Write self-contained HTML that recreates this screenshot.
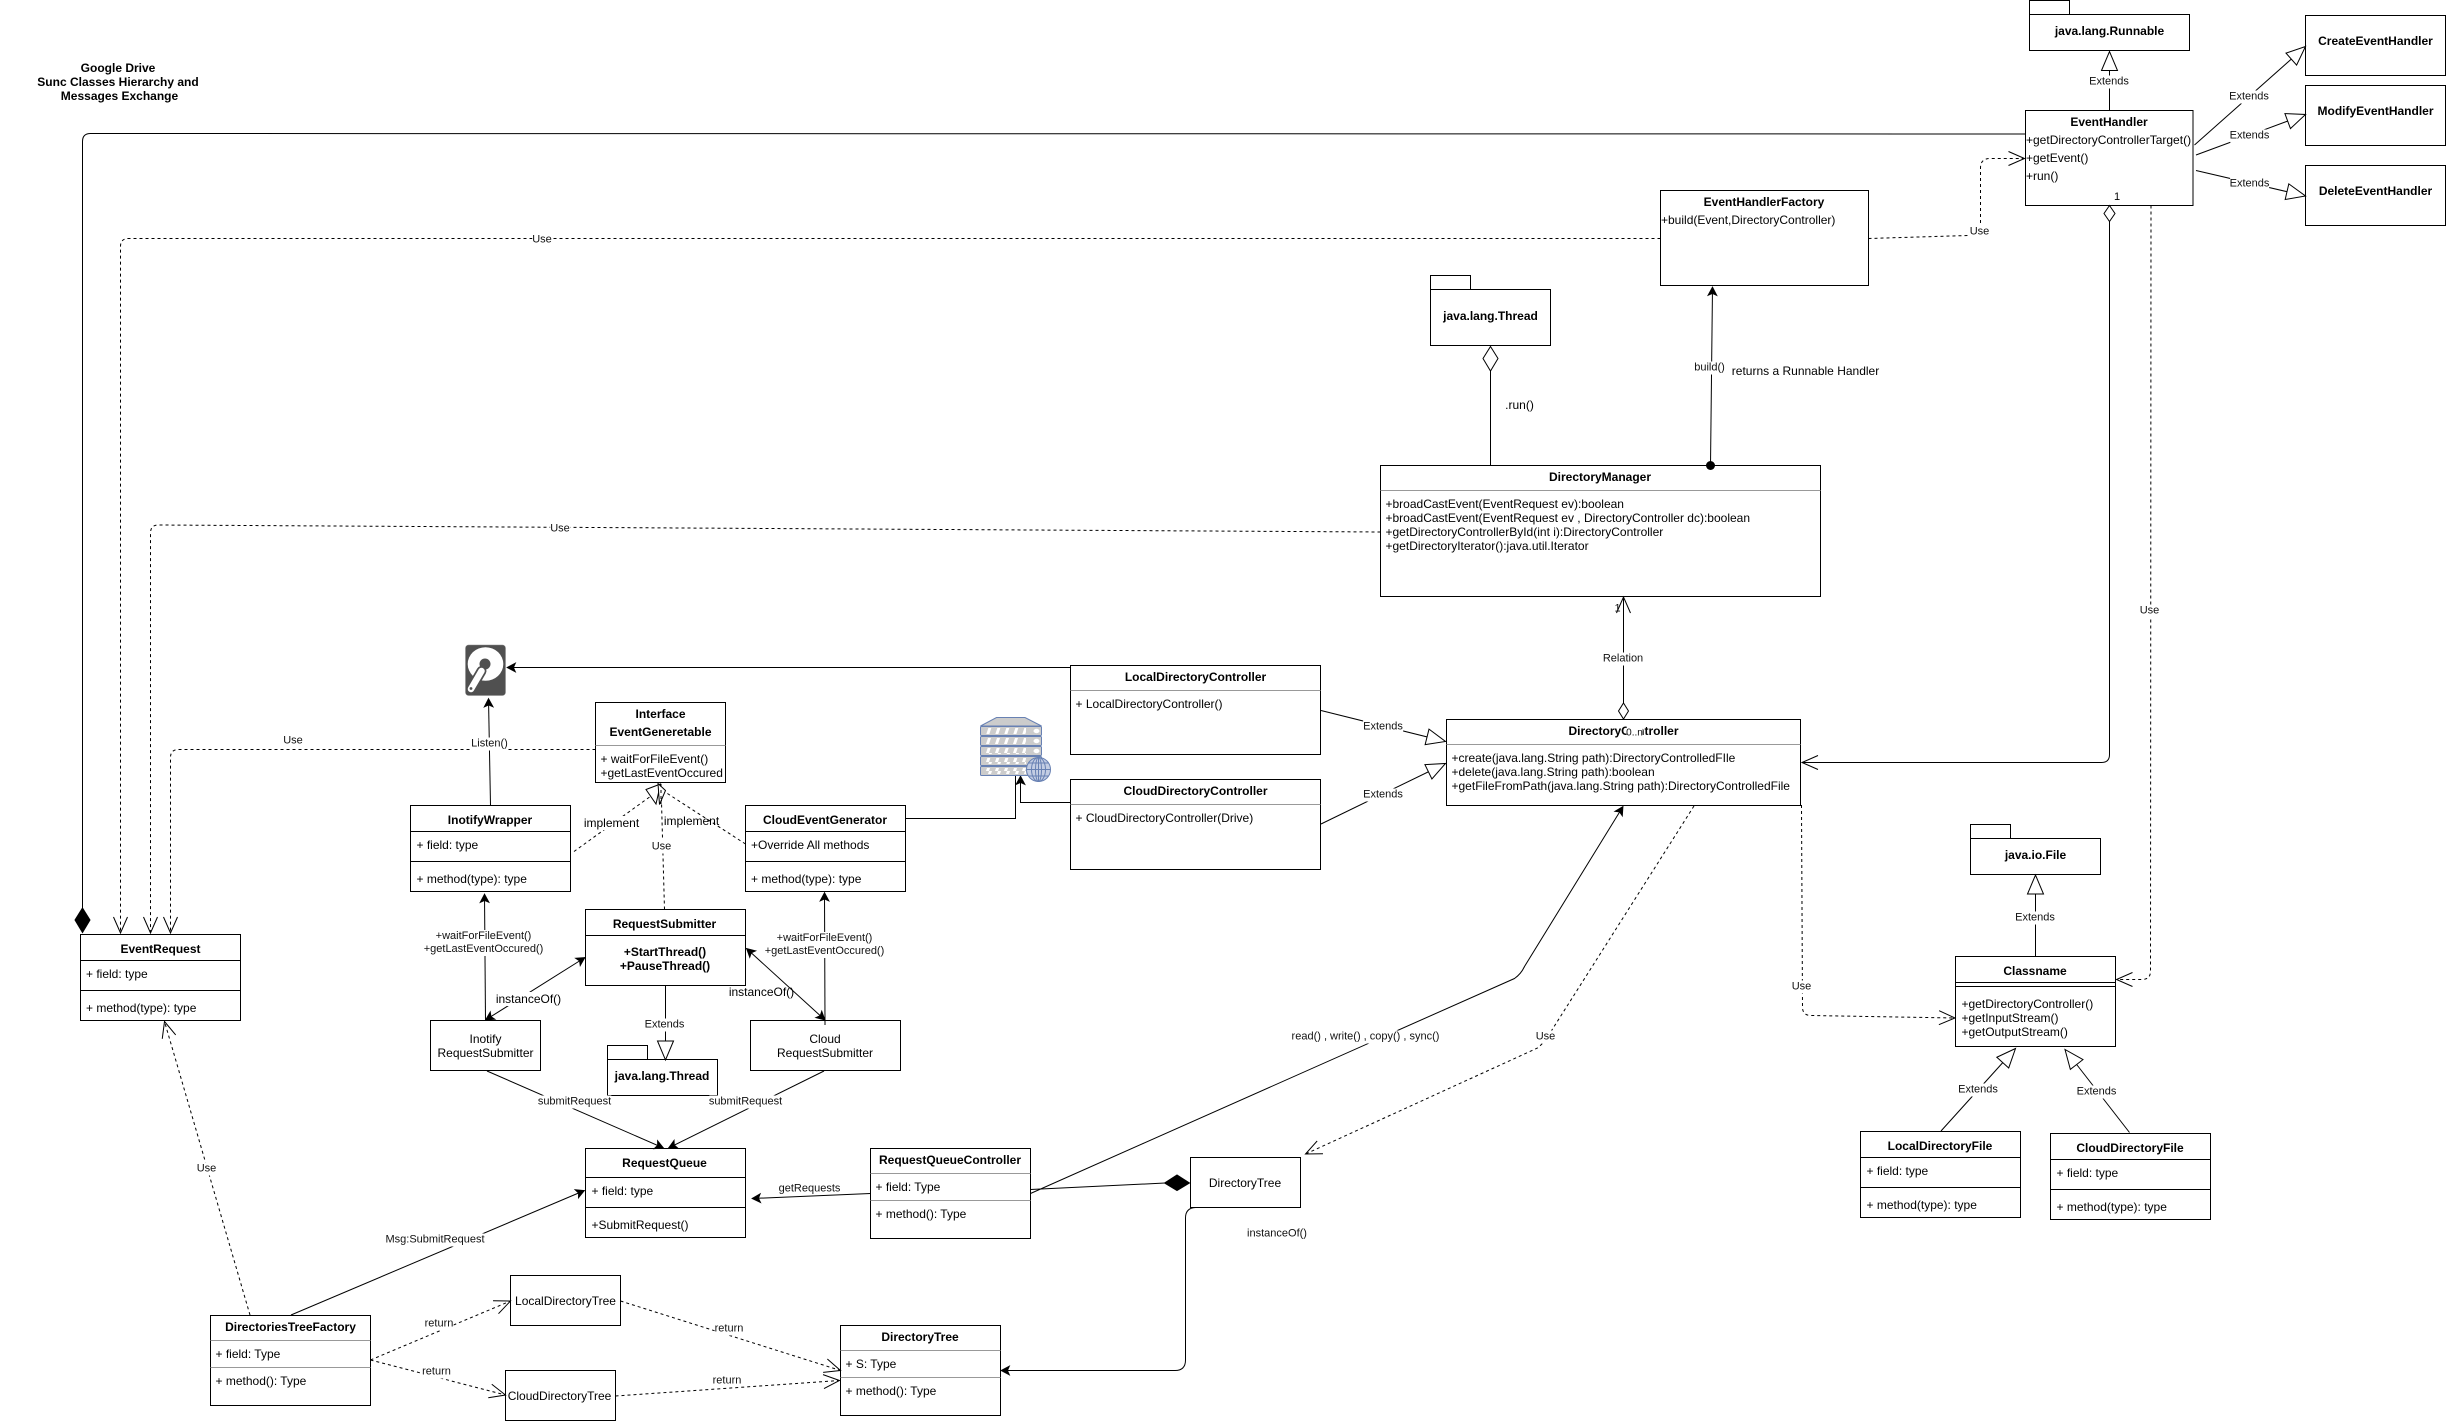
<!DOCTYPE html>
<html>
<head>
<meta charset="utf-8">
<style>
html,body{margin:0;padding:0;background:#fff;}
#p{position:relative;width:2446px;height:1421px;overflow:hidden;background:#fff;font-family:"Liberation Sans",Arial,sans-serif;color:#000;}
svg{position:absolute;left:0;top:0;}
#p div{position:absolute;white-space:nowrap;font-size:12px;line-height:14px;}
#p div.c{transform:translate(-50%,-50%);text-align:center;}
#p div.a{transform:translate(0,-50%);}
#p div.b{font-weight:bold;}
#p div.l{transform:translate(-50%,calc(-50% + 1px));text-align:center;font-size:11px;line-height:13px;background:#fff;color:#111;}
#p div.m{transform:translate(-50%,-50%);text-align:center;background:#fff;}
</style>
</head>
<body>
<div id="p">
<svg width="2446" height="1421" viewBox="0 0 2446 1421" xmlns="http://www.w3.org/2000/svg">
<defs>
<marker id="op" markerUnits="userSpaceOnUse" markerWidth="40" markerHeight="40" refX="0" refY="0" orient="auto" overflow="visible"><path d="M-16 -7 L0 0 L-16 7" fill="none" stroke="#000" stroke-width="1"/></marker>
<marker id="bl" markerUnits="userSpaceOnUse" markerWidth="40" markerHeight="40" refX="0" refY="0" orient="auto-start-reverse" overflow="visible"><path d="M0 0 L-8.5 -4.5 L-6.5 0 L-8.5 4.5 Z" fill="#000" stroke="#000" stroke-width="0.8"/></marker>
<marker id="tr" markerUnits="userSpaceOnUse" markerWidth="40" markerHeight="40" refX="0" refY="0" orient="auto" overflow="visible"><path d="M-19 -8 L0 0 L-19 8 Z" fill="#fff" stroke="#000" stroke-width="1"/></marker>
<pattern id="st" patternUnits="userSpaceOnUse" width="9" height="9" x="984" y="726"><path d="M2 9 L5 0 L8 0 L5 9 Z" fill="#fff"/></pattern>
</defs>

<!-- boxes -->
<g fill="#fff" stroke="#000" stroke-width="1">
<rect x="2029.5" y="0.5" width="40" height="14"/><rect x="2029.5" y="14.5" width="160" height="36"/>
<rect x="2025.5" y="110.5" width="167.5" height="95"/>
<rect x="2305.5" y="15.5" width="140" height="60"/>
<rect x="2305.5" y="85.5" width="140" height="60"/>
<rect x="2305.5" y="165.5" width="140" height="60"/>
<rect x="1660.5" y="190.5" width="208" height="95"/>
<rect x="1430.5" y="275.5" width="40" height="14"/><rect x="1430.5" y="289.5" width="120" height="56"/>
<rect x="1380.5" y="465.5" width="440" height="131"/>
<rect x="1446.5" y="719.5" width="354" height="86"/>
<rect x="1070.5" y="665.5" width="250" height="89"/>
<rect x="1070.5" y="779.5" width="250" height="90"/>
<rect x="595.5" y="702.5" width="130" height="80"/>
<rect x="410.5" y="805.5" width="160" height="86"/>
<rect x="745.5" y="805.5" width="160" height="86"/>
<rect x="585.5" y="909.5" width="160" height="76"/>
<rect x="430.5" y="1020.5" width="110" height="50"/>
<rect x="750.5" y="1020.5" width="150" height="50"/>
<rect x="607.5" y="1045.5" width="40" height="14"/><rect x="607.5" y="1059.5" width="110" height="36"/>
<rect x="585.5" y="1148.5" width="160" height="89"/>
<rect x="80.5" y="934.5" width="160" height="86"/>
<rect x="210.5" y="1315.5" width="160" height="90"/>
<rect x="510.5" y="1275.5" width="110" height="50"/>
<rect x="505.5" y="1370.5" width="110" height="50"/>
<rect x="840.5" y="1325.5" width="160" height="90"/>
<rect x="870.5" y="1148.5" width="160" height="90"/>
<rect x="1190.5" y="1157.5" width="110" height="50"/>
<rect x="1970.5" y="824.5" width="40" height="14"/><rect x="1970.5" y="838.5" width="130" height="36"/>
<rect x="1955.5" y="956.5" width="160" height="90"/>
<rect x="1860.5" y="1131.5" width="160" height="86"/>
<rect x="2050.5" y="1133.5" width="160" height="86"/>
</g>

<!-- separators -->
<g stroke="#999" stroke-width="1" fill="none">
<path d="M1380.5 490.5H1820.5M1446.5 744.5H1800.5M1070.5 690.5H1320.5M1070.5 804.5H1320.5M595.5 745.5H725.5M210.5 1340.5H370.5M210.5 1367.5H370.5M840.5 1350.5H1000.5M840.5 1377.5H1000.5M870.5 1173.5H1030.5M870.5 1200.5H1030.5"/>
</g>
<g stroke="#000" stroke-width="1" fill="none">
<path d="M410.5 831.5H570.5M410.5 861.5H570.5M745.5 831.5H905.5M745.5 861.5H905.5M585.5 935.5H745.5M585.5 1177.5H745.5M585.5 1207.5H745.5M80.5 960.5H240.5M80.5 990.5H240.5M1955.5 982.5H2115.5M1955.5 986.5H2115.5M1860.5 1157.5H2020.5M1860.5 1187.5H2020.5M2050.5 1159.5H2210.5M2050.5 1189.5H2210.5"/>
</g>

<!-- solid edges -->
<g fill="none" stroke="#000" stroke-width="1">
<path d="M2025 134 L90.5 133.5 Q82.5 133.5 82.5 141.5 L82.5 908"/>
<path d="M2109.5 110 L2109.5 51.5" marker-end="url(#tr)"/>
<path d="M2194.5 145 L2305.5 46.5" marker-end="url(#tr)"/>
<path d="M2196 155 L2305.5 114.5" marker-end="url(#tr)"/>
<path d="M2196 170.5 L2305.5 196" marker-end="url(#tr)"/>
<path d="M2109.5 221 L2109.5 754.5 Q2109.5 762.5 2101.5 762.5 L1802 762.5" marker-end="url(#op)"/>
<path d="M1490.5 465 L1490.5 371"/>
<path d="M1710.5 465.5 L1712.5 287" marker-end="url(#bl)"/>
<path d="M1623.5 703 L1623.5 597" marker-end="url(#op)"/>
<path d="M1070.5 667.5 L507 667.5" marker-end="url(#bl)"/>
<path d="M490.5 805.5 L488.5 698.5" marker-end="url(#bl)"/>
<path d="M905.5 818.5 L1015.5 818.5 L1015.5 776"/>
<path d="M1070.5 802.5 L1020.5 802.5 L1020.5 776" marker-end="url(#bl)"/>
<path d="M485.5 1020 L484.5 894" marker-end="url(#bl)"/>
<path d="M825 1025 L824.5 892.5" marker-end="url(#bl)"/>
<path d="M485.5 1020 L585 957.5" marker-start="url(#bl)" marker-end="url(#bl)"/>
<path d="M825 1020 L746.5 948.5" marker-start="url(#bl)" marker-end="url(#bl)"/>
<path d="M665.5 985.5 L665.5 1060" marker-end="url(#tr)"/>
<path d="M487 1071 L663.5 1148" marker-end="url(#bl)"/>
<path d="M824 1071 L668.5 1148" marker-end="url(#bl)"/>
<path d="M291 1315 L584.5 1190.5" marker-end="url(#bl)"/>
<path d="M870.5 1193.5 L752 1198.5" marker-end="url(#bl)"/>
<path d="M1030.5 1189.5 L1165 1183"/>
<path d="M1195.5 1207.5 Q1185.5 1208 1185.5 1218 L1185.5 1360 Q1185.5 1370.5 1175 1370.5 L1001 1370.5" marker-end="url(#bl)"/>
<path d="M1030.5 1193.5 L1514.5 978.5 Q1521 974 1524.5 966.5 L1623 806.5" marker-end="url(#bl)"/>
<path d="M1321 710.5 L1445.5 741.5" marker-end="url(#tr)"/>
<path d="M1321 824 L1445.5 763.5" marker-end="url(#tr)"/>
<path d="M2035.5 956.5 L2035.5 875" marker-end="url(#tr)"/>
<path d="M1941 1131 L2015.5 1048.5" marker-end="url(#tr)"/>
<path d="M2129.5 1132.5 L2065 1049.5" marker-end="url(#tr)"/>
</g>

<!-- dashed edges -->
<g fill="none" stroke="#000" stroke-width="1" stroke-dasharray="3 3">
<path d="M1660.5 238.5 L128.5 238.5 Q120.5 238.5 120.5 246.5 L120.5 933" marker-end="url(#op)"/>
<path d="M1380.5 532 L158.5 525 Q150.5 525 150.5 533 L150.5 933" marker-end="url(#op)"/>
<path d="M595.5 749.5 L178.5 749.5 Q170.5 749.5 170.5 757.5 L170.5 933" marker-end="url(#op)"/>
<path d="M1868.5 238.5 L1968 235.5 Q1980.5 235 1980.5 225 L1980.5 168 Q1980.5 158.5 1990 158.5 L2024.5 158.5" marker-end="url(#op)"/>
<path d="M2151 205.5 L2150.5 971 Q2150.5 979.5 2142 979.5 L2116.5 979.5" marker-end="url(#op)"/>
<path d="M1801.5 805 L1802.5 1008 Q1803 1015.5 1811 1015.5 L1955 1018" marker-end="url(#op)"/>
<path d="M1694 806 L1550 1033 Q1545 1042 1537.5 1048 L1305.5 1154" marker-end="url(#op)"/>
<path d="M574 851.5 L651 796"/>
<path d="M745.5 844 L662 790"/>
<path d="M664.5 909.5 L661 784"/>
<path d="M250 1315 L164.5 1021.5" marker-end="url(#op)"/>
<path d="M370.5 1360 L510.5 1301" marker-end="url(#op)"/>
<path d="M370.5 1360 L505.5 1395" marker-end="url(#op)"/>
<path d="M620.5 1301 L840.5 1370.5" marker-end="url(#op)"/>
<path d="M615.5 1396 L839.5 1380.5" marker-end="url(#op)"/>
</g>
<polygon points="660.5,784 646,789.5 656,804" fill="#fff" stroke="#000"/>
<polygon points="658,783.5 665.5,790.5 659.5,804.5" fill="#fff" stroke="#000"/>
<path d="M661 784 V804" fill="none" stroke="#000" stroke-dasharray="3 3"/>

<!-- diamonds and dot -->
<polygon points="82.5,908 90,920 82.5,932.5 75,920" fill="#000" stroke="#000"/>
<polygon points="1164.5,1183 1177,1175 1189.5,1183 1177,1190.5" fill="#000" stroke="#000"/>
<polygon points="1490.5,346.5 1498,358.5 1490.5,371 1483,358.5" fill="#fff" stroke="#000"/>
<polygon points="2109.5,205.5 2115,213.5 2109.5,221.5 2104,213.5" fill="#fff" stroke="#000"/>
<polygon points="1623.5,703 1628.5,711 1623.5,719 1618.5,711" fill="#fff" stroke="#000"/>
<circle cx="1710.5" cy="465.5" r="4.5" fill="#000"/>

<!-- disk icon -->
<rect x="465.5" y="645" width="40" height="50.5" rx="3" fill="#505050" stroke="#888" stroke-width="0.5"/>
<ellipse cx="485.5" cy="664" rx="17.8" ry="16.8" fill="#fff"/>
<circle cx="485" cy="664" r="5.5" fill="#505050"/>
<path d="M481.5 671 L471 689" stroke="#505050" stroke-width="10" stroke-linecap="round"/>
<path d="M481.5 671 L471 689" stroke="#fff" stroke-width="6.5" stroke-linecap="round"/>
<circle cx="471" cy="688.5" r="1.4" fill="#505050"/>

<!-- server icon -->
<g stroke="#6881B3" stroke-width="1" fill="#ccc">
<polygon points="980.5,726 996.5,717.5 1025,717.5 1041.5,726"/>
<rect x="980.5" y="726.5" width="61" height="9" rx="1"/>
<rect x="980.5" y="736.5" width="61" height="9" rx="1"/>
<rect x="980.5" y="746.5" width="61" height="9" rx="1"/>
<rect x="980.5" y="756.5" width="61" height="9" rx="1"/>
<rect x="980.5" y="766.5" width="61" height="9" rx="1"/>
</g>
<g stroke="none" fill="url(#st)">
<rect x="984" y="728" width="42" height="6"/>
<rect x="984" y="738" width="42" height="6"/>
<rect x="984" y="748" width="42" height="6"/>
<rect x="984" y="758" width="42" height="6"/>
<rect x="984" y="768" width="42" height="6"/>
</g>
<g fill="#fff"><ellipse cx="1036.5" cy="731" rx="3" ry="2.2"/><ellipse cx="1036.5" cy="741" rx="3" ry="2.2"/><ellipse cx="1036.5" cy="751" rx="3" ry="2.2"/></g>
<g fill="none" stroke="#6881B3" stroke-width="1">
<circle cx="1038.5" cy="769.5" r="12" fill="#c3cde3"/>
<ellipse cx="1038.5" cy="769.5" rx="7" ry="12"/>
<ellipse cx="1038.5" cy="769.5" rx="3" ry="12"/>
<path d="M1026.5 769.5H1050.5M1028 763H1049M1028 776H1049M1038.5 757.5V781.5"/>
</g>
</svg>

<!-- title -->
<div class="c b" style="left:118px;top:68px">Google Drive</div>
<div class="c b" style="left:118px;top:82px">Sunc Classes Hierarchy and</div>
<div class="c b" style="left:119.5px;top:96px">Messages Exchange</div>

<!-- top right -->
<div class="c b" style="left:2109.5px;top:31px">java.lang.Runnable</div>
<div class="c b" style="left:2109px;top:122px">EventHandler</div>
<div class="a" style="left:2026px;top:140px">+getDirectoryControllerTarget()</div>
<div class="a" style="left:2026px;top:158px">+getEvent()</div>
<div class="a" style="left:2026px;top:176px">+run()</div>
<div class="c" style="left:2117px;top:197px;font-size:11px">1</div>
<div class="c b" style="left:2375.5px;top:41px">CreateEventHandler</div>
<div class="c b" style="left:2375.5px;top:111px">ModifyEventHandler</div>
<div class="c b" style="left:2375.5px;top:191px">DeleteEventHandler</div>
<div class="c b" style="left:1764px;top:202px">EventHandlerFactory</div>
<div class="a" style="left:1661px;top:220px">+build(Event,DirectoryController)</div>
<div class="c b" style="left:1490.5px;top:316px">java.lang.Thread</div>
<div class="c" style="left:1519.5px;top:405px">.run()</div>
<div class="c" style="left:1805.5px;top:371px">returns a Runnable Handler</div>

<!-- DirectoryManager -->
<div class="c b" style="left:1600px;top:477px">DirectoryManager</div>
<div class="a" style="left:1385.5px;top:504px">+broadCastEvent(EventRequest ev):boolean</div>
<div class="a" style="left:1385.5px;top:518px">+broadCastEvent(EventRequest ev , DirectoryController dc):boolean</div>
<div class="a" style="left:1385.5px;top:532px">+getDirectoryControllerById(int i):DirectoryController</div>
<div class="a" style="left:1385.5px;top:546px">+getDirectoryIterator():java.util.Iterator</div>

<!-- DirectoryController -->
<div class="c b" style="left:1623.5px;top:731px">DirectoryController</div>
<div class="a" style="left:1451.5px;top:758px">+create(java.lang.String path):DirectoryControlledFIle</div>
<div class="a" style="left:1451.5px;top:772px">+delete(java.lang.String path):boolean</div>
<div class="a" style="left:1451.5px;top:786px">+getFileFromPath(java.lang.String path):DirectoryControlledFile</div>

<div class="c b" style="left:1195.5px;top:677px">LocalDirectoryController</div>
<div class="a" style="left:1075.5px;top:704px">+ LocalDirectoryController()</div>
<div class="c b" style="left:1195.5px;top:791px">CloudDirectoryController</div>
<div class="a" style="left:1075.5px;top:818px">+ CloudDirectoryController(Drive)</div>

<!-- Middle -->
<div class="c b" style="left:660.5px;top:714px">Interface</div>
<div class="c b" style="left:660.5px;top:732px">EventGeneretable</div>
<div class="a" style="left:600.5px;top:759px">+ waitForFileEvent()</div>
<div class="a" style="left:600.5px;top:773px">+getLastEventOccured</div>

<div class="c b" style="left:490px;top:820px">InotifyWrapper</div>
<div class="a" style="left:416.5px;top:845px">+ field: type</div>
<div class="a" style="left:416.5px;top:879px">+ method(type): type</div>

<div class="c b" style="left:825px;top:820px">CloudEventGenerator</div>
<div class="a" style="left:751px;top:845px">+Override All methods</div>
<div class="a" style="left:751px;top:879px">+ method(type): type</div>

<div class="c b" style="left:664.5px;top:924px">RequestSubmitter</div>
<div class="c b" style="left:665px;top:952px">+StartThread()</div>
<div class="c b" style="left:665px;top:966px">+PauseThread()</div>

<div class="c" style="left:485.5px;top:1039px">Inotify</div>
<div class="c" style="left:485.5px;top:1053px">RequestSubmitter</div>
<div class="c" style="left:825px;top:1039px">Cloud</div>
<div class="c" style="left:825px;top:1053px">RequestSubmitter</div>
<div class="c b" style="left:662px;top:1076px">java.lang.Thread</div>

<div class="c b" style="left:664.5px;top:1163px">RequestQueue</div>
<div class="a" style="left:591.5px;top:1191px">+ field: type</div>
<div class="a" style="left:591.5px;top:1225px">+SubmitRequest()</div>

<div class="c b" style="left:160.5px;top:949px">EventRequest</div>
<div class="a" style="left:86px;top:974px">+ field: type</div>
<div class="a" style="left:86px;top:1008px">+ method(type): type</div>

<div class="c b" style="left:290.5px;top:1327px">DirectoriesTreeFactory</div>
<div class="a" style="left:215.5px;top:1354px">+ field: Type</div>
<div class="a" style="left:215.5px;top:1381px">+ method(): Type</div>

<div class="c" style="left:565.5px;top:1301px">LocalDirectoryTree</div>
<div class="c" style="left:559.5px;top:1396px">CloudDirectoryTree</div>

<div class="c b" style="left:920px;top:1337px">DirectoryTree</div>
<div class="a" style="left:845.5px;top:1364px">+ S: Type</div>
<div class="a" style="left:845.5px;top:1391px">+ method(): Type</div>

<div class="c b" style="left:950px;top:1160px">RequestQueueController</div>
<div class="a" style="left:875.5px;top:1187px">+ field: Type</div>
<div class="a" style="left:875.5px;top:1214px">+ method(): Type</div>

<div class="c" style="left:1245px;top:1183px">DirectoryTree</div>

<!-- right bottom -->
<div class="c b" style="left:2035.5px;top:855px">java.io.File</div>
<div class="c b" style="left:2035px;top:971px">Classname</div>
<div class="a" style="left:1961.5px;top:1004px">+getDirectoryController()</div>
<div class="a" style="left:1961.5px;top:1018px">+getInputStream()</div>
<div class="a" style="left:1961.5px;top:1032px">+getOutputStream()</div>
<div class="c b" style="left:1940px;top:1146px">LocalDirectoryFile</div>
<div class="a" style="left:1866.5px;top:1171px">+ field: type</div>
<div class="a" style="left:1866.5px;top:1205px">+ method(type): type</div>
<div class="c b" style="left:2130px;top:1148px">CloudDirectoryFile</div>
<div class="a" style="left:2056.5px;top:1173px">+ field: type</div>
<div class="a" style="left:2056.5px;top:1207px">+ method(type): type</div>

<!-- connector labels -->
<div class="l" style="left:2109px;top:81px">Extends</div>
<div class="l" style="left:2249px;top:96px">Extends</div>
<div class="l" style="left:2249.5px;top:135px">Extends</div>
<div class="l" style="left:2249.5px;top:183px">Extends</div>
<div class="l" style="left:542px;top:239px">Use</div>
<div class="l" style="left:1979.5px;top:231px">Use</div>
<div class="l" style="left:2149.5px;top:610px">Use</div>
<div class="l" style="left:1709.5px;top:367px">build()</div>
<div class="l" style="left:560px;top:528px">Use</div>
<div class="l" style="left:293px;top:740px">Use</div>
<div class="l" style="left:1623px;top:658px">Relation</div>
<div class="l" style="left:1617.5px;top:608px;background:none">1</div>
<div class="l" style="left:1634.5px;top:732px;font-size:10px">0..n</div>
<div class="l" style="left:489.5px;top:743px">Listen()</div>
<div class="l" style="left:1383px;top:726px">Extends</div>
<div class="l" style="left:1383px;top:794px">Extends</div>
<div class="m" style="left:611.5px;top:823px">implement</div>
<div class="m" style="left:691.5px;top:821px;background:none">implement</div>
<div class="l" style="left:661.5px;top:846px">Use</div>
<div class="l" style="left:483.5px;top:942px">+waitForFileEvent()<br>+getLastEventOccured()</div>
<div class="l" style="left:824.5px;top:944px">+waitForFileEvent()<br>+getLastEventOccured()</div>
<div class="m" style="left:528.5px;top:999px">instanceOf()</div>
<div class="m" style="left:761.5px;top:992px;background:none">instanceOf()</div>
<div class="l" style="left:664.5px;top:1024px">Extends</div>
<div class="l" style="left:574.5px;top:1101px">submitRequest</div>
<div class="l" style="left:745.5px;top:1101px">submitRequest</div>
<div class="l" style="left:1365.5px;top:1036px">read() , write() , copy() , sync()</div>
<div class="l" style="left:1545.5px;top:1036px">Use</div>
<div class="l" style="left:1801.5px;top:986px">Use</div>
<div class="l" style="left:2035px;top:917px">Extends</div>
<div class="l" style="left:1978px;top:1089px">Extends</div>
<div class="l" style="left:2096.5px;top:1091px">Extends</div>
<div class="l" style="left:809.5px;top:1188px;background:none">getRequests</div>
<div class="l" style="left:1277px;top:1233px">instanceOf()</div>
<div class="l" style="left:206.5px;top:1168px">Use</div>
<div class="l" style="left:435px;top:1239px">Msg:SubmitRequest</div>
<div class="l" style="left:439px;top:1322.5px">return</div>
<div class="l" style="left:436.5px;top:1370.5px">return</div>
<div class="l" style="left:729px;top:1327.5px">return</div>
<div class="l" style="left:727px;top:1379.5px;background:none">return</div>
</div>
</body>
</html>
